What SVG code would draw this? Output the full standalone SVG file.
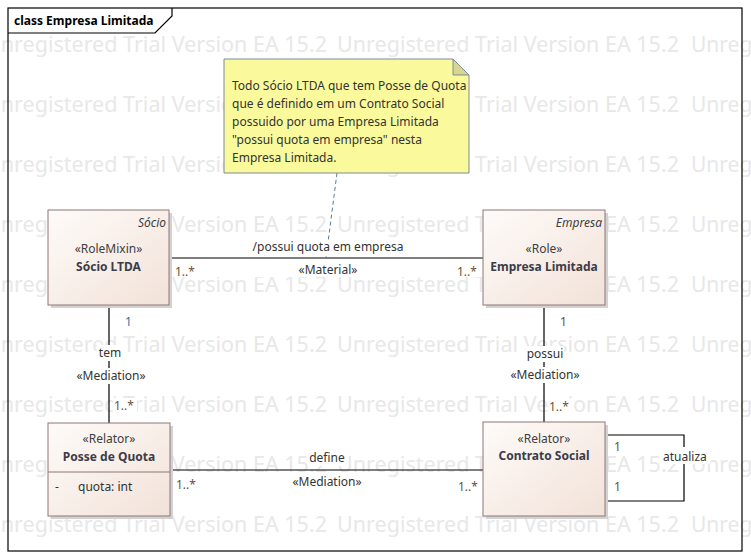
<svg xmlns="http://www.w3.org/2000/svg" xmlns:xlink="http://www.w3.org/1999/xlink" width="751" height="559" viewBox="0 0 751 559">
<style>
text{font-family:"Noto Sans","Open Sans","Liberation Sans",sans-serif;font-size:12px;fill:#333333}
.wm{font-size:21px;fill:#e8e8e8}
.title{font-weight:bold;fill:#000}
.node{fill:url(#ng);stroke:#8e7676;stroke-width:1}
.shadow{fill:#d2d2d2}
.nm{font-weight:bold;fill:#3c3c48;text-anchor:middle}
.st{text-anchor:middle;fill:#404040}
.it{font-style:italic;text-anchor:end;fill:#404040}
.c{text-anchor:middle}
.mul{fill:#6b5235}
.mulb{fill:#2f6fae}
.bg{fill:#ffffff}
.conn{stroke:#000;stroke-width:1.2;fill:none}
.dash{stroke:#5a7a9a;stroke-width:1;stroke-dasharray:4,3;fill:none}
</style>
<defs>
<linearGradient id="ng" x1="0" y1="0" x2="1" y2="1">
<stop offset="0" stop-color="#fefbf9"/>
<stop offset="1" stop-color="#f2e2d8"/>
</linearGradient>
<g id="wm">
<text class="wm" x="-15" y="0" textLength="342" lengthAdjust="spacingAndGlyphs">Unregistered Trial Version EA 15.2</text>
<text class="wm" x="337" y="0" textLength="342" lengthAdjust="spacingAndGlyphs">Unregistered Trial Version EA 15.2</text>
<text class="wm" x="691" y="0">Unregistered</text>
</g>
</defs>
<rect x="0" y="0" width="751" height="559" fill="#ffffff"/>
<g id="watermark">
<use xlink:href="#wm" x="0" y="52"/>
<use xlink:href="#wm" x="0" y="112"/>
<use xlink:href="#wm" x="0" y="172"/>
<use xlink:href="#wm" x="0" y="232"/>
<use xlink:href="#wm" x="0" y="292"/>
<use xlink:href="#wm" x="0" y="352"/>
<use xlink:href="#wm" x="0" y="412"/>
<use xlink:href="#wm" x="0" y="472"/>
<use xlink:href="#wm" x="0" y="532"/>
</g>
<g id="frame">
<rect x="8" y="8" width="734" height="543" fill="none" stroke="#000" stroke-width="1.2"/>
<path d="M8,33 H155 L172,16 V8" fill="none" stroke="#000" stroke-width="1.2"/>
<text class="title" x="14" y="25">class Empresa Limitada</text>
</g>
<g id="connectors">
<rect class="bg" x="169" y="237" width="314" height="40"/>
<line class="conn" x1="169" y1="258" x2="483" y2="258"/>
<line class="dash" x1="337" y1="173" x2="326" y2="258"/>
<rect class="bg" x="252" y="240" width="152" height="15"/>
<text class="c" x="328" y="251">/possui quota em empresa</text>
<text class="c" x="328" y="274">«Material»</text>
<text class="mul" x="175" y="276">1..*</text>
<text class="mul" x="457" y="276">1..*</text>

<line class="conn" x1="109" y1="305" x2="109" y2="423"/>
<rect class="bg" x="124" y="314" width="11" height="15"/>
<text class="mulb" x="125" y="326">1</text>
<rect class="bg" x="97" y="345" width="25" height="16"/>
<text class="c" x="110" y="357">tem</text>
<rect class="bg" x="74" y="368" width="74" height="16"/>
<text class="c" x="111" y="380">«Mediation»</text>
<rect class="bg" x="113" y="398" width="24" height="16"/>
<text class="mul" x="114" y="410">1..*</text>

<line class="conn" x1="544" y1="305" x2="544" y2="422"/>
<rect class="bg" x="559" y="314" width="11" height="15"/>
<text class="mul" x="560" y="326">1</text>
<rect class="bg" x="526" y="346" width="38" height="16"/>
<text class="c" x="545" y="358">possui</text>
<rect class="bg" x="508" y="367" width="74" height="16"/>
<text class="c" x="545" y="379">«Mediation»</text>
<rect class="bg" x="548" y="399" width="24" height="16"/>
<text class="mul" x="549" y="411">1..*</text>

<line class="conn" x1="171" y1="470" x2="483" y2="470"/>
<rect class="bg" x="307" y="450" width="40" height="16"/>
<text class="c" x="327" y="462">define</text>
<rect class="bg" x="290" y="474" width="74" height="16"/>
<text class="c" x="327" y="486">«Mediation»</text>
<rect class="bg" x="175" y="477" width="24" height="16"/>
<text class="mul" x="176" y="489">1..*</text>
<rect class="bg" x="457" y="479" width="24" height="16"/>
<text class="mul" x="458" y="491">1..*</text>

<polyline class="conn" points="606,435 684,435 684,501 606,501"/>
<rect class="bg" x="660" y="447" width="50" height="17"/>
<text x="663" y="461">atualiza</text>
<rect class="bg" x="613" y="439" width="11" height="15"/>
<text class="mul" x="614" y="451">1</text>
<rect class="bg" x="613" y="479" width="11" height="15"/>
<text class="mul" x="614" y="491">1</text>
</g>
<g id="note">
<path d="M224,59 H453 L469,75 V173 H224 Z" fill="#fafa9c" stroke="#7a8ca0" stroke-width="1"/>
<path d="M453,59 V75 H469 Z" fill="#d6d68c" stroke="#7a8ca0" stroke-width="1"/>
<text x="232" y="90">Todo Sócio LTDA que tem Posse de Quota</text>
<text x="232" y="108">que é definido em um Contrato Social</text>
<text x="232" y="126">possuido por uma Empresa Limitada</text>
<text x="232" y="144">"possui quota em empresa" nesta</text>
<text x="232" y="162">Empresa Limitada.</text>
</g>
<g id="socio-ltda">
<rect class="shadow" x="51" y="213" width="121" height="95"/>
<rect class="node" x="48" y="210" width="121" height="95"/>
<text class="it" x="166" y="227">Sócio</text>
<text class="st" x="108.5" y="253">«RoleMixin»</text>
<text class="nm" x="108.5" y="271">Sócio LTDA</text>
</g>
<g id="empresa-limitada">
<rect class="shadow" x="486" y="213" width="122" height="95"/>
<rect class="node" x="483" y="210" width="122" height="95"/>
<text class="it" x="602" y="227">Empresa</text>
<text class="st" x="544" y="253">«Role»</text>
<text class="nm" x="544" y="271">Empresa Limitada</text>
</g>
<g id="posse-de-quota">
<rect class="shadow" x="51" y="426" width="122" height="93"/>
<rect class="node" x="48" y="423" width="122" height="93"/>
<line x1="48" y1="472" x2="170" y2="472" stroke="#8e7676" stroke-width="1"/>
<text class="st" x="109" y="443">«Relator»</text>
<text class="nm" x="109" y="461">Posse de Quota</text>
<text x="55" y="491">-</text>
<text x="78" y="491">quota: int</text>
</g>
<g id="contrato-social">
<rect class="shadow" x="486" y="425" width="122" height="94"/>
<rect class="node" x="483" y="422" width="122" height="94"/>
<text class="st" x="544" y="443">«Relator»</text>
<text class="nm" x="544" y="460">Contrato Social</text>
</g>
</svg>
